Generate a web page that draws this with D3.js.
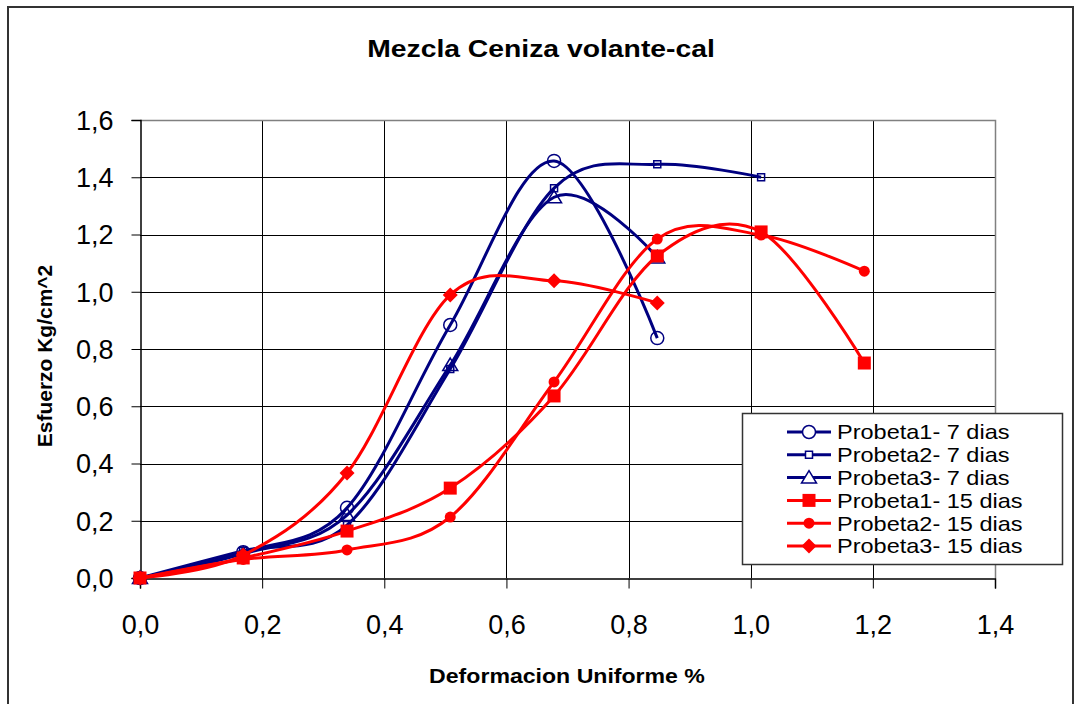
<!DOCTYPE html>
<html>
<head>
<meta charset="utf-8">
<script src="https://cdn.jsdelivr.net/npm/d3@7"></script>
<style>
  body { margin: 0; background: #fff; }
  svg { display: block; font-family: "Liberation Sans", Arial, sans-serif; }
</style>
</head>
<body>
<svg id="chart" width="1074" height="704"></svg>
<script>
// deformation (%) at which every probe was read
var deformacion = [0, 0.169, 0.339, 0.508, 0.678, 0.847, 1.017, 1.186];

// esfuerzo Kg/cm^2 per probe, same order as deformacion
var probeta1_7 = [0, 0.09, 0.245, 0.884, 1.457, 0.838];
var probeta2_7 = [0, 0.095, 0.185, 0.73, 1.362, 1.445, 1.40];
var probeta3_7 = [0, 0.085, 0.22, 0.744, 1.33, 1.12];
var probeta1_15 = [0, 0.07, 0.164, 0.314, 0.636, 1.125, 1.209, 0.751];
var probeta2_15 = [0, 0.065, 0.098, 0.213, 0.685, 1.184, 1.198, 1.072];
var probeta3_15 = [0, 0.08, 0.367, 0.989, 1.038, 0.961];

var seriesNames = [
  'Probeta1- 7 dias', 'Probeta2- 7 dias', 'Probeta3- 7 dias',
  'Probeta1- 15 dias', 'Probeta2- 15 dias', 'Probeta3- 15 dias'
];
var xTicks = [0, 0.2, 0.4, 0.6, 0.8, 1.0, 1.2, 1.4];
var yTicks = [0, 0.2, 0.4, 0.6, 0.8, 1.0, 1.2, 1.4, 1.6];

var NAVY = '#000080', RED = '#ff0000';

var series = [
  { name: seriesNames[0], values: probeta1_7, color: NAVY, marker: 'circle', filled: false },
  { name: seriesNames[1], values: probeta2_7, color: NAVY, marker: 'smallSquare', filled: false },
  { name: seriesNames[2], values: probeta3_7, color: NAVY, marker: 'triangle', filled: false },
  { name: seriesNames[3], values: probeta1_15, color: RED, marker: 'square', filled: true },
  { name: seriesNames[4], values: probeta2_15, color: RED, marker: 'dot', filled: true },
  { name: seriesNames[5], values: probeta3_15, color: RED, marker: 'diamond', filled: true }
];

var svg = d3.select('#chart');
var plot = { left: 140, top: 120, right: 995, bottom: 578 };

var x = d3.scaleLinear().domain([0, 1.4]).range([plot.left, plot.right]);
var y = d3.scaleLinear().domain([0, 1.6]).range([plot.bottom, plot.top]);

var comma = d3.formatLocale({ decimal: ',', thousands: '.', grouping: [3], currency: ['', ''] }).format('.1f');

// the original text is drawn a bit wider than the font, so stretch it
function wideText(parent, px, py, sx, rot) {
  return parent.append('g')
    .attr('transform', 'translate(' + px + ',' + py + ')' + (rot ? ' rotate(' + rot + ')' : '') + ' scale(' + sx + ',1)')
    .append('text');
}

// outer chart border
svg.append('rect')
  .attr('x', 8).attr('y', 7).attr('width', 1065).attr('height', 700)
  .attr('fill', 'none').attr('stroke', '#333').attr('stroke-width', 2);

// title
wideText(svg, 541, 57, 1.18)
  .attr('text-anchor', 'middle')
  .style('font-size', '24px').style('font-weight', 'bold')
  .text('Mezcla Ceniza volante-cal');

// gridlines
svg.append('g')
  .selectAll('line.h')
  .data(yTicks.slice(1, -1))
  .enter().append('line')
  .attr('x1', plot.left).attr('x2', plot.right)
  .attr('y1', function(d) { return Math.round(y(d)) + 0.5; })
  .attr('y2', function(d) { return Math.round(y(d)) + 0.5; })
  .attr('stroke', '#000').attr('stroke-width', 1);

svg.append('g')
  .selectAll('line.v')
  .data(xTicks.slice(1, -1))
  .enter().append('line')
  .attr('y1', plot.top).attr('y2', plot.bottom)
  .attr('x1', function(d) { return Math.round(x(d)) + 0.5; })
  .attr('x2', function(d) { return Math.round(x(d)) + 0.5; })
  .attr('stroke', '#000').attr('stroke-width', 1);

// plot area border (grey, top and right)
svg.append('path')
  .attr('d', 'M' + plot.left + ',' + (plot.top + 0.5) + 'H' + (plot.right + 0.5) + 'V' + plot.bottom)
  .attr('fill', 'none').attr('stroke', '#808080').attr('stroke-width', 1.5);

// axes
var yAxis = d3.axisLeft(y).tickValues(yTicks).tickFormat(comma).tickSize(9).tickPadding(18);
var xAxis = d3.axisBottom(x).tickValues(xTicks).tickFormat(comma).tickSize(10).tickPadding(26);

var gy = svg.append('g').attr('transform', 'translate(' + (plot.left + 0.5) + ',0)').call(yAxis);
var gx = svg.append('g').attr('transform', 'translate(0,' + (plot.bottom + 0.5) + ')').call(xAxis);

[gx, gy].forEach(function(g) {
  g.select('.domain').attr('stroke', '#000').attr('stroke-width', 1.5);
  g.selectAll('.tick line').attr('stroke', '#000');
  g.selectAll('.tick text')
    .attr('fill', '#000')
    .style('font-family', '"Liberation Sans", Arial, sans-serif')
    .style('font-size', '27px');
});
gy.selectAll('.tick text').attr('dy', '0.35em');

// axis titles
wideText(svg, 567, 683, 1.1)
  .attr('text-anchor', 'middle')
  .style('font-size', '21px').style('font-weight', 'bold')
  .text('Deformacion Uniforme %');

wideText(svg, 52, 356, 1.05, -90)
  .attr('text-anchor', 'middle')
  .style('font-size', '20px').style('font-weight', 'bold')
  .text('Esfuerzo Kg/cm^2');

// marker shapes
function markerPath(type) {
  switch (type) {
    case 'circle': return d3.symbol(d3.symbolCircle, Math.PI * 6.5 * 6.5)();
    case 'smallSquare': return 'M-3.5,-3.5H3.5V3.5H-3.5Z';
    case 'triangle': return 'M0,-7L7.5,5.5H-7.5Z';
    case 'square': return 'M-6.5,-6.5H6.5V6.5H-6.5Z';
    case 'dot': return d3.symbol(d3.symbolCircle, Math.PI * 5.5 * 5.5)();
    case 'diamond': return 'M0,-7.5L7.5,0L0,7.5L-7.5,0Z';
  }
}

function styleMarker(sel, s) {
  sel.attr('d', markerPath(s.marker))
    .attr('fill', s.filled ? s.color : 'none')
    .attr('stroke', s.color)
    .attr('stroke-width', s.filled ? 0 : 1.5);
}

var line = d3.line()
  .x(function(d, i) { return x(deformacion[i]); })
  .y(function(d) { return y(d); })
  .curve(d3.curveCatmullRom.alpha(0));

var seriesG = svg.append('g').selectAll('g.series')
  .data(series)
  .enter().append('g').attr('class', 'series');

seriesG.append('path')
  .attr('d', function(s) { return line(s.values); })
  .attr('fill', 'none')
  .attr('stroke', function(s) { return s.color; })
  .attr('stroke-width', 3)
  .attr('stroke-linejoin', 'round');

seriesG.each(function(s) {
  d3.select(this).selectAll('path.mark')
    .data(s.values)
    .enter().append('path')
    .attr('class', 'mark')
    .attr('transform', function(d, i) { return 'translate(' + x(deformacion[i]) + ',' + y(d) + ')'; })
    .call(styleMarker, s);
});

// legend
var legend = svg.append('g').attr('transform', 'translate(742,413)');
legend.append('rect')
  .attr('x', 0.5).attr('y', 0.5).attr('width', 320).attr('height', 151)
  .attr('fill', '#fff').attr('stroke', '#333').attr('stroke-width', 1.5);

var rows = legend.selectAll('g.row')
  .data(series)
  .enter().append('g')
  .attr('class', 'row')
  .attr('transform', function(d, i) { return 'translate(0,' + (19 + i * 22.8) + ')'; });

rows.append('line')
  .attr('x1', 45).attr('x2', 89)
  .attr('stroke', function(s) { return s.color; })
  .attr('stroke-width', 3);

rows.append('path')
  .attr('transform', 'translate(67,0)')
  .each(function(s) { d3.select(this).call(styleMarker, s); })
  .attr('fill', function(s) { return s.filled ? s.color : '#fff'; });

rows.append('g')
  .attr('transform', 'translate(95,0) scale(1.12,1)')
  .append('text')
  .attr('dy', '0.35em')
  .style('font-size', '21px')
  .text(function(s) { return s.name; });
</script>
</body>
</html>
